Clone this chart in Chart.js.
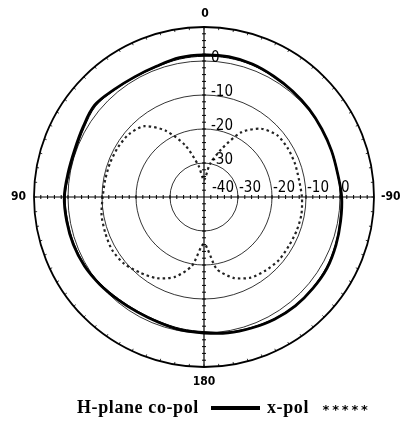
<!DOCTYPE html>
<html>
<head>
<meta charset="utf-8">
<script src="https://cdn.jsdelivr.net/npm/chart.js@4.4.0/dist/chart.umd.min.js"></script>
<style>
  html, body { margin: 0; padding: 0; background: #fff; }
  #wrap { width: 400px; height: 423px; position: relative; }
</style>
</head>
<body>
<div id="wrap"><canvas id="patternChart" width="400" height="423"></canvas></div>
<script>
// angles (deg), clockwise from top : 0 at top, -90 at right, 180 at bottom, 90 at left
const angleLabels = [0, -10, -20, -30, -40, -50, -60, -70, -80, -90, -100, -110, -120, -130, -140, -150, -160, -170,
                     180, 170, 160, 150, 140, 130, 120, 110, 100, 90, 80, 70, 60, 50, 40, 30, 20, 10];

// H-plane co-pol (dB), two traces
const coPolA = [1.8, 1.9, 1.6, 1.0, 0.6, 0.3, 0.0, -0.1, -0.1, 0.5, 0.8, 1.3, 1.8, 1.8, 1.8, 1.5, 1.0, 0.6,
                0.0, -0.3, -0.8, -0.9, -0.6, 0.0, 0.6, 0.9, 1.0, 1.1, 0.6, 0.5, 1.1, 2.0, 1.2, 0.8, 0.9, 1.6];
const coPolB = [1.4, 1.5, 1.3, 0.8, 0.4, 0.2, 0.0, -0.2, -0.2, 0.3, 0.6, 1.1, 1.5, 1.6, 1.6, 1.3, 0.8, 0.3,
                -0.4, -0.7, -1.1, -1.2, -0.9, -0.3, 0.3, 0.6, 0.7, 0.8, 0.2, 0.1, 0.7, 1.6, 1.0, 0.6, 0.7, 1.2];

// x-pol (dB)
const xPol = [-35, -30.3, -25, -18, -13.8, -11.8, -11.5, -11.5, -11.6, -11.2, -10.9, -11, -11.2, -11.2, -11.8, -12.6, -14.7, -18.5,
              -26.2, -19.4, -15, -12.4, -10.9, -9.4, -8.8, -9.1, -9.4, -10.2, -10.5, -10.6, -10.8, -11.2, -12.8, -17.5, -23.8, -30.6];

// radial ticks
const radialTicks = [-40, -30, -20, -10, 0];
const cardinalLabels = ['0', '-90', '180', '90'];

const numFont = '"Liberation Sans Narrow", "DejaVu Sans Condensed", sans-serif';

// dessin des graduations, labels et légende
const decorPlugin = {
    id: 'decor',
    afterDraw(chart) {
        const ctx = chart.ctx;
        const r = chart.scales.r;
        const cx = r.xCenter, cy = r.yCenter;
        const R = r.getDistanceFromCenterForValue(r.max);
        ctx.save();
        ctx.strokeStyle = '#000';
        ctx.fillStyle = '#000';

        // petits traits sur les axes, tous les 2 dB
        ctx.lineWidth = 1;
        for (let v = r.min + 2; v < r.max; v += 2) {
            const d = r.getDistanceFromCenterForValue(v);
            ctx.beginPath();
            ctx.moveTo(cx + d, cy - 2); ctx.lineTo(cx + d, cy + 2);
            ctx.moveTo(cx - d, cy - 2); ctx.lineTo(cx - d, cy + 2);
            ctx.moveTo(cx - 2, cy + d); ctx.lineTo(cx + 2, cy + d);
            ctx.moveTo(cx - 2, cy - d); ctx.lineTo(cx + 2, cy - d);
            ctx.stroke();
        }
        // traits sur le cercle extérieur, tous les 5 deg
        ctx.lineWidth = 0.8;
        for (let a = 0; a < 360; a += 5) {
            const t = a * Math.PI / 180;
            ctx.beginPath();
            ctx.moveTo(cx + R * Math.sin(t), cy - R * Math.cos(t));
            ctx.lineTo(cx + (R - 2.5) * Math.sin(t), cy - (R - 2.5) * Math.cos(t));
            ctx.stroke();
        }

        // labels dB
        ctx.font = '15px ' + numFont;
        ctx.textAlign = 'left';
        ctx.textBaseline = 'alphabetic';
        radialTicks.forEach(v => {
            const d = r.getDistanceFromCenterForValue(v);
            if (v > r.min) ctx.fillText(String(v), cx + 7, cy - d + 1);
            ctx.fillText(String(v), v === r.min ? cx + 8 : cx + d + 1, cy - 5);
        });

        // labels angulaires
        ctx.font = 'bold 12px ' + numFont;
        ctx.textBaseline = 'middle';
        ctx.textAlign = 'center';
        ctx.fillText(cardinalLabels[0], cx + 1, cy - R - 13);
        ctx.fillText(cardinalLabels[2], cx, cy + R + 15);
        ctx.textAlign = 'left';
        ctx.fillText(cardinalLabels[1], cx + R + 7, cy);
        ctx.textAlign = 'right';
        ctx.fillText(cardinalLabels[3], cx - R - 8, cy);

        // légende
        const ly = 408;
        ctx.font = 'bold 18px "Liberation Serif", serif';
        ctx.letterSpacing = '0.6px';
        ctx.textAlign = 'left';
        ctx.fillText('H-plane co-pol', 77, ly);
        ctx.lineWidth = 4;
        ctx.beginPath();
        ctx.moveTo(211, ly); ctx.lineTo(260, ly);
        ctx.stroke();
        ctx.fillText('x-pol', 267, ly);
        ctx.letterSpacing = '0px';
        ctx.font = 'bold 13px "DejaVu Sans", sans-serif';
        ctx.textAlign = 'center';
        for (let i = 0; i < 5; i++) ctx.fillText('*', 326 + i * 9.6, ly + 3);
        ctx.restore();
    }
};

function renderPatternChart() {
    const ctx = document.getElementById('patternChart').getContext('2d');
    new Chart(ctx, {
        type: 'radar',
        data: {
            labels: angleLabels,
            datasets: [
                {
                    label: 'H-plane co-pol',
                    data: coPolA,
                    borderColor: '#000',
                    borderWidth: 2.8,
                    pointRadius: 0,
                    fill: false,
                    tension: 0.35
                },
                {
                    label: 'H-plane co-pol (2)',
                    data: coPolB,
                    borderColor: '#000',
                    borderWidth: 1,
                    pointRadius: 0,
                    fill: false,
                    tension: 0.35
                },
                {
                    label: 'x-pol',
                    data: xPol,
                    borderColor: '#222',
                    borderWidth: 2.2,
                    borderDash: [2.5, 3],
                    pointRadius: 0,
                    fill: false,
                    tension: 0.25
                }
            ]
        },
        options: {
            responsive: false,
            animation: false,
            layout: { padding: { left: 34, right: 26, top: 27, bottom: 56 } },
            plugins: {
                legend: { display: false },
                tooltip: { enabled: false }
            },
            scales: {
                r: {
                    min: -40,
                    max: 10,
                    ticks: { display: false, stepSize: 10 },
                    pointLabels: { display: false },
                    grid: {
                        circular: true,
                        color: '#000',
                        lineWidth: (c) => (c.tick && c.tick.value === 10 ? 1.8 : 0.8)
                    },
                    angleLines: {
                        display: true,
                        lineWidth: 1.2,
                        color: (c) => (c.index % 9 === 0 ? '#000' : 'rgba(0,0,0,0)')
                    }
                }
            }
        },
        plugins: [decorPlugin]
    });
}

window.addEventListener('DOMContentLoaded', renderPatternChart);
</script>
</body>
</html>
